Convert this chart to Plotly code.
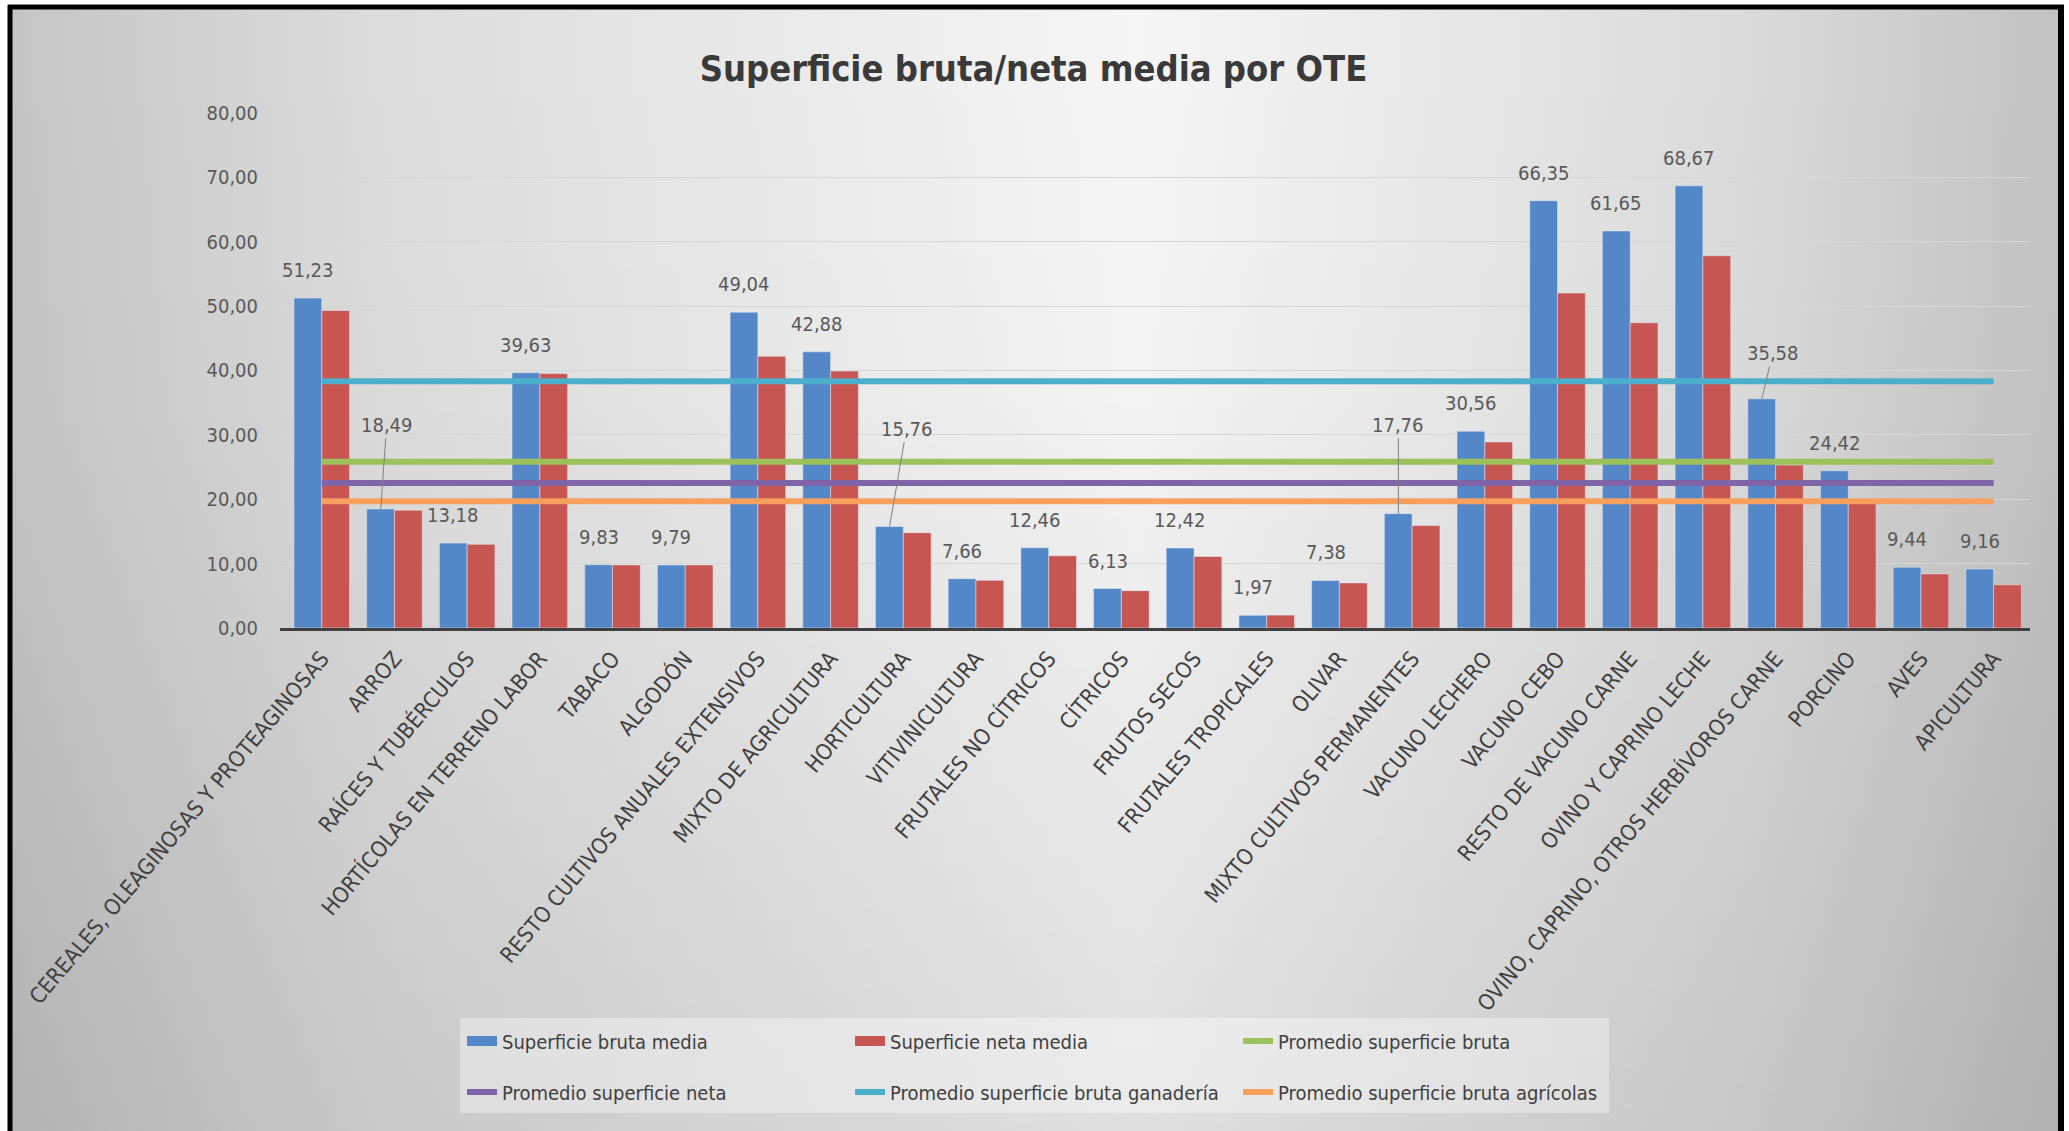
import base64

import plotly.graph_objects as go

# ── Data ───────────────────────────────────────────────────────────────────────
categorias = [
    "CEREALES, OLEAGINOSAS Y PROTEAGINOSAS", "ARROZ", "RAÍCES Y TUBÉRCULOS",
    "HORTÍCOLAS EN TERRENO LABOR", "TABACO", "ALGODÓN",
    "RESTO CULTIVOS ANUALES EXTENSIVOS", "MIXTO DE AGRICULTURA", "HORTICULTURA",
    "VITIVINICULTURA", "FRUTALES NO CÍTRICOS", "CÍTRICOS", "FRUTOS SECOS",
    "FRUTALES TROPICALES", "OLIVAR", "MIXTO CULTIVOS PERMANENTES",
    "VACUNO LECHERO", "VACUNO CEBO", "RESTO DE VACUNO CARNE",
    "OVINO Y CAPRINO LECHE", "OVINO, CAPRINO, OTROS HERBÍVOROS CARNE",
    "PORCINO", "AVES", "APICULTURA",
]
sup_bruta = [51.23, 18.49, 13.18, 39.63, 9.83, 9.79, 49.04, 42.88, 15.76, 7.66,
             12.46, 6.13, 12.42, 1.97, 7.38, 17.76, 30.56, 66.35, 61.65, 68.67,
             35.58, 24.42, 9.44, 9.16]
sup_neta = [49.3, 18.3, 13.0, 39.5, 9.8, 9.8, 42.2, 39.9, 14.8, 7.4,
            11.2, 5.8, 11.1, 2.0, 7.0, 15.9, 28.9, 52.0, 47.4, 57.8,
            25.3, 19.9, 8.4, 6.7]
prom_bruta = 25.8
prom_neta = 22.5
prom_ganaderia = 38.3
prom_agricolas = 19.7

# ── Styling ────────────────────────────────────────────────────────────────────
W, H = 2069, 1131
FONT = "Liberation Sans Narrow, DejaVu Sans Condensed, Liberation Sans, sans-serif"
BLUE, RED = "#5487C8", "#C75552"
GREEN, PURPLE, CYAN, ORANGE = "#9BC15A", "#8064A8", "#4BAFCB", "#F7A05E"
TEXT = "#404040"
LABEL = "#595959"

# label offsets (px) for the labels that Excel pushed up with a leader line
LEADER = {1: (6, -84), 8: (17, -98), 15: (0, -89), 20: (11, -46)}


def fx(p):
    return p / W


def fy(p):
    return 1 - p / H


# soft grey gradient like the Excel chart area
svg = """<svg xmlns="http://www.w3.org/2000/svg" viewBox="0 0 100 100" preserveAspectRatio="none">
<defs>
<linearGradient id="h" x1="0" y1="0" x2="1" y2="0">
<stop offset="0" stop-color="#c5c5c5"/>
<stop offset="0.18" stop-color="#dcdcdc"/>
<stop offset="0.55" stop-color="#f5f5f5"/>
<stop offset="0.85" stop-color="#dadada"/>
<stop offset="1" stop-color="#c2c2c2"/>
</linearGradient>
<linearGradient id="v" x1="0" y1="0" x2="0" y2="1">
<stop offset="0" stop-color="#000" stop-opacity="0"/>
<stop offset="0.35" stop-color="#000" stop-opacity="0.01"/>
<stop offset="1" stop-color="#000" stop-opacity="0.09"/>
</linearGradient>
</defs>
<rect width="100" height="100" fill="url(#h)"/>
<rect width="100" height="100" fill="url(#v)"/>
</svg>"""
bg_uri = "data:image/svg+xml;base64," + base64.b64encode(svg.encode()).decode()

fig = go.Figure()

fig.add_trace(go.Bar(x=categorias, y=sup_bruta, name="Superficie bruta media",
                     marker_color=BLUE, showlegend=False))
fig.add_trace(go.Bar(x=categorias, y=sup_neta, name="Superficie neta media",
                     marker_color=RED, showlegend=False))

# legend patches for the bars (wide flat swatches, as in Excel)
for nombre, color in [("Superficie bruta media", BLUE), ("Superficie neta media", RED)]:
    fig.add_trace(go.Scatter(x=[None], y=[None], mode="lines", name=nombre,
                             line=dict(color=color, width=15), legend="legend",
                             hoverinfo="skip"))

lineas = [
    ("Promedio superficie bruta", prom_bruta, GREEN, "legend"),
    ("Promedio superficie neta", prom_neta, PURPLE, "legend2"),
    ("Promedio superficie bruta ganadería", prom_ganaderia, CYAN, "legend2"),
    ("Promedio superficie bruta agrícolas", prom_agricolas, ORANGE, "legend2"),
]
for nombre, valor, color, leg in lineas:
    fig.add_trace(go.Scatter(
        x=[categorias[0], categorias[-1]], y=[valor, valor],
        mode="lines", name=nombre, line=dict(color=color, width=6),
        legend=leg,
    ))

# data labels on the gross-area bars
annotations = []
for i, (cat, val) in enumerate(zip(categorias, sup_bruta)):
    txt = f"{val:.2f}".replace(".", ",")
    if i in LEADER:
        ax, ay = LEADER[i]
        annotations.append(dict(
            x=cat, y=val, xref="x", yref="y", text=txt, xshift=-13.75,
            showarrow=True, arrowhead=0, arrowwidth=1, arrowcolor="#7f7f7f",
            ax=ax, ay=ay, standoff=0,
            font=dict(family=FONT, size=20, color=LABEL),
        ))
    else:
        annotations.append(dict(
            x=cat, y=val, xref="x", yref="y", text=txt, xshift=-13.75,
            yshift=28, showarrow=False, yanchor="middle",
            font=dict(family=FONT, size=20, color=LABEL),
        ))

shapes = [
    # legend box
    dict(type="rect", xref="paper", yref="paper", layer="below",
         x0=fx(460), x1=fx(1609), y0=fy(1113), y1=fy(1018),
         fillcolor="rgba(255,255,255,0.35)", line=dict(width=0)),
    # black frame of the picture
    dict(type="line", xref="paper", yref="paper", x0=fx(8), x1=fx(2064),
         y0=fy(7), y1=fy(7), line=dict(color="black", width=5)),
    dict(type="line", xref="paper", yref="paper", x0=fx(10), x1=fx(10),
         y0=fy(5), y1=0, line=dict(color="black", width=5)),
    dict(type="line", xref="paper", yref="paper", x0=fx(2061), x1=fx(2061),
         y0=fy(5), y1=0, line=dict(color="black", width=6)),
]

fig.update_layout(
    width=W, height=H,
    margin=dict(l=0, r=0, t=0, b=0),
    paper_bgcolor="white",
    plot_bgcolor="rgba(0,0,0,0)",
    separators=",.",
    font=dict(family=FONT, color=TEXT),
    title=dict(text="Superficie bruta/neta media por OTE", x=0.4995, y=fy(68),
               xanchor="center", yanchor="middle",
               font=dict(family=FONT, size=36, color="#3a3a3a", weight="bold")),
    barmode="group", bargap=0.235, bargroupgap=0,
    xaxis=dict(domain=[fx(280), fx(2030)], type="category", tickangle=-50,
               tickfont=dict(family=FONT, size=22, color=TEXT),
               showgrid=False, showline=True, linecolor="#404040", linewidth=3,
               ticks="", ticklabelstandoff=6, automargin=False),
    yaxis=dict(domain=[fy(628), fy(112.8)], range=[0, 80], dtick=10,
               tickformat=".2f", gridcolor="#d6d6d6", gridwidth=1,
               zeroline=False, showline=False, ticks="",
               ticklabelstandoff=21, automargin=False,
               tickfont=dict(family=FONT, size=20, color=LABEL)),
    legend=dict(orientation="h", x=fx(462), y=fy(1041), xanchor="left",
                yanchor="middle", bgcolor="rgba(0,0,0,0)", entrywidth=343,
                font=dict(family=FONT, size=20, color=TEXT), traceorder="normal"),
    legend2=dict(orientation="h", x=fx(462), y=fy(1092), xanchor="left",
                 yanchor="middle", bgcolor="rgba(0,0,0,0)", entrywidth=343,
                 font=dict(family=FONT, size=20, color=TEXT), traceorder="normal"),
    annotations=annotations,
    shapes=shapes,
    images=[dict(source=bg_uri, xref="paper", yref="paper", x=fx(12), y=fy(9),
                 sizex=fx(2058) - fx(12), sizey=1 - 9 / H, sizing="stretch",
                 xanchor="left", yanchor="top", layer="below")],
)

# drop the browser's default 8px body margin so the figure sits at (0, 0)
fig.write_html("out.html", config={"displayModeBar": False},
               post_script="document.body.style.margin='0';")
